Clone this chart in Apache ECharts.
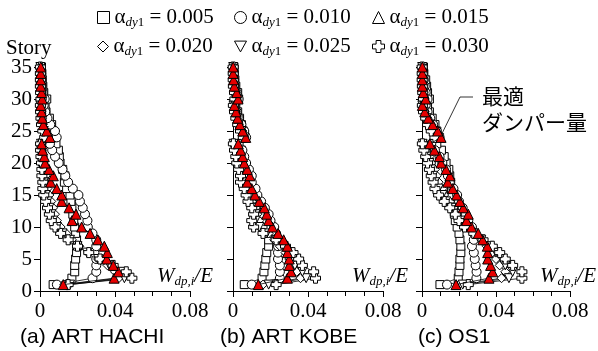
<!DOCTYPE html>
<html><head><meta charset="utf-8">
<script src="https://cdn.jsdelivr.net/npm/echarts@6/dist/echarts.min.js"></script>
<style>html,body{margin:0;padding:0;background:#fff}#c{width:598px;height:351px}</style>
</head><body><div id="c"></div>
<script>
// ---- data (index 0 = story 1 ... index 34 = story 35) ----
const stories = [1,2,3,4,5,6,7,8,9,10,11,12,13,14,15,16,17,18,19,20,21,22,23,24,25,26,27,28,29,30,31,32,33,34,35];
const alphas = ['0.005','0.010','0.015','0.020','0.025','0.030'];
const panelTitles = ['(a) ART HACHI','(b) ART KOBE','(c) OS1'];
const yTickLabels = ['0','5','10','15','20','25','30','35'];
const xTickLabels = ['0','0.04','0.08'];
const storyLabel = 'Story';
const noteLines = ['最適','ダンパー量'];

// (a) ART HACHI
const a_sq = [0.007,0.017,0.0185,0.0185,0.019,0.0195,0.020,0.0195,0.019,0.0185,0.018,0.0175,0.017,0.0165,0.016,0.0142,0.013,0.0133,0.0121,0.0107,0.0103,0.0098,0.0085,0.0075,0.0068,0.0062,0.005,0.0032,0.0027,0.0036,0.002,0.0015,0.0012,0.001,0.0008];
const a_ci = [0.009,0.028,0.030,0.030,0.030,0.029,0.030,0.030,0.028,0.0255,0.0253,0.024,0.0228,0.0213,0.0205,0.0175,0.015,0.0135,0.012,0.010,0.008,0.0065,0.0053,0.0089,0.008,0.0055,0.004,0.0028,0.002,0.0025,0.0015,0.001,0.0008,0.0006,0.0005];
const a_tr = [0.0124,0.0395,0.0418,0.0391,0.0356,0.0359,0.0343,0.0308,0.0267,0.0222,0.0171,0.0192,0.0155,0.0116,0.0116,0.0089,0.0057,0.0071,0.0048,0.0027,0.0023,0.0014,0.0009,0.0053,0.0036,0.0018,0.0012,0.0009,0.0004,0.0012,0.0009,0.0004,0.0004,0.0004,0.0004];
const a_di = [0.013,0.042,0.040,0.036,0.031,0.026,0.021,0.017,0.014,0.011,0.009,0.008,0.007,0.006,0.005,0.004,0.004,0.003,0.003,0.002,0.0015,0.001,0.001,0.004,0.003,0.0015,0.001,0.0008,0.0003,0.001,0.0007,0.0003,0.0003,0.0003,0.0003];
const a_dt = [0.016,0.045,0.043,0.037,0.031,0.025,0.020,0.016,0.012,0.009,0.007,0.006,0.005,0.004,0.003,0.0025,0.002,0.002,0.0015,0.001,0.001,0.0005,0.0005,0.003,0.002,0.001,0.0008,0.0005,0.0002,0.0008,0.0005,0.0002,0.0002,0.0002,0.0002];
const a_cr = [0.015,0.049,0.046,0.039,0.032,0.026,0.020,0.015,0.011,0.008,0.006,0.005,0.004,0.003,0.002,0.0015,0.0015,0.001,0.001,0.0008,0.0005,0.0003,0.0003,0.0025,0.0015,0.0008,0.0005,0.0003,0.0002,0.0005,0.0003,0.0002,0.0002,0.0002,0.0002];
// (b) ART KOBE
const b_sq = [0.006,0.0155,0.0165,0.017,0.0175,0.018,0.019,0.019,0.0185,0.018,0.0165,0.015,0.014,0.013,0.011,0.010,0.009,0.008,0.007,0.006,0.005,0.0045,0.003,0.0065,0.0055,0.0045,0.0035,0.0025,0.0015,0.003,0.0025,0.0015,0.001,0.0006,0.0005];
const b_ci = [0.010,0.025,0.025,0.025,0.024,0.024,0.024,0.024,0.023,0.022,0.020,0.019,0.017,0.015,0.013,0.012,0.010,0.010,0.0085,0.007,0.006,0.005,0.003,0.007,0.006,0.0045,0.003,0.002,0.001,0.003,0.002,0.001,0.0006,0.0004,0.0003];
const b_tr = [0.0135,0.029,0.031,0.030,0.030,0.029,0.029,0.027,0.024,0.021,0.019,0.018,0.0167,0.014,0.0117,0.010,0.0076,0.009,0.0076,0.006,0.0052,0.0041,0.0028,0.0068,0.0052,0.0037,0.0025,0.0016,0.0007,0.0027,0.002,0.0007,0.0003,0.0001,0.0001];
const b_di = [0.016,0.036,0.034,0.031,0.030,0.028,0.025,0.022,0.019,0.016,0.014,0.013,0.012,0.010,0.009,0.008,0.006,0.006,0.005,0.004,0.003,0.002,0.001,0.006,0.005,0.003,0.002,0.0015,0.0005,0.002,0.0015,0.0005,0.0003,0.0002,0.0002];
const b_dt = [0.019,0.039,0.037,0.033,0.032,0.030,0.027,0.023,0.018,0.014,0.012,0.012,0.011,0.009,0.008,0.007,0.005,0.005,0.004,0.003,0.002,0.001,0.0003,0.006,0.0045,0.003,0.002,0.001,0.0003,0.0015,0.001,0.0003,0.0002,0.0001,0.0001];
const b_cr = [0.023,0.044,0.043,0.037,0.035,0.032,0.028,0.023,0.016,0.011,0.010,0.011,0.010,0.008,0.007,0.006,0.004,0.004,0.003,0.002,0.0015,0.0008,0.0002,0.0055,0.004,0.0025,0.0015,0.0008,0.0002,0.001,0.0008,0.0002,0.0001,0.0001,0.0001];
// (c) OS1
const c_sq = [0.0097,0.0196,0.020,0.0205,0.0205,0.021,0.021,0.0205,0.020,0.019,0.018,0.0175,0.017,0.0165,0.016,0.016,0.0155,0.015,0.0145,0.013,0.012,0.0105,0.008,0.0095,0.008,0.007,0.0055,0.004,0.003,0.004,0.003,0.0025,0.002,0.001,0.0008];
const c_ci = [0.0135,0.0294,0.0295,0.029,0.0285,0.028,0.027,0.028,0.028,0.027,0.025,0.0235,0.022,0.020,0.019,0.017,0.015,0.014,0.013,0.011,0.0095,0.007,0.005,0.0095,0.008,0.006,0.0045,0.003,0.002,0.003,0.002,0.0015,0.001,0.0005,0.0004];
const c_tr = [0.0184,0.0362,0.0382,0.0371,0.0355,0.0355,0.0353,0.0328,0.0304,0.0268,0.0241,0.025,0.0223,0.0205,0.0187,0.0166,0.0139,0.0151,0.013,0.0103,0.0094,0.0067,0.0043,0.0103,0.0085,0.0058,0.0034,0.0015,0.0002,0.002,0.0007,0.0002,0.0002,0.0002,0.0002];
const c_di = [0.020,0.043,0.045,0.042,0.040,0.038,0.035,0.032,0.028,0.024,0.021,0.019,0.017,0.015,0.012,0.011,0.009,0.008,0.007,0.005,0.004,0.002,0.001,0.009,0.007,0.005,0.003,0.0015,0.0003,0.0015,0.0007,0.0003,0.0002,0.0002,0.0002];
const c_dt = [0.022,0.047,0.049,0.045,0.043,0.040,0.036,0.032,0.028,0.024,0.021,0.018,0.016,0.013,0.011,0.009,0.007,0.006,0.005,0.004,0.003,0.001,0.0003,0.008,0.006,0.004,0.0025,0.001,0.0002,0.001,0.0005,0.0002,0.0001,0.0001,0.0001];
const c_cr = [0.025,0.054,0.054,0.049,0.045,0.042,0.038,0.033,0.028,0.023,0.020,0.018,0.015,0.012,0.009,0.007,0.006,0.005,0.004,0.003,0.002,0.001,0.0002,0.007,0.005,0.003,0.002,0.0008,0.0002,0.0008,0.0004,0.0002,0.0001,0.0001,0.0001];

// ---- build chart ----
const SERIF = 'Liberation Serif';
const SANS = 'Liberation Sans';
const DOWN = 'path://M0,0 L10,0 L5,9 Z';
const CROSS = 'path://M3,0 H7 V3 H10 V7 H7 V10 H3 V7 H0 V3 H3 Z';
const symbols = ['rect','circle','triangle','diamond',DOWN,CROSS];
const sizes = [8,9,10,9,9,10];
const panelData = [
  [a_sq,a_ci,a_tr,a_di,a_dt,a_cr],
  [b_sq,b_ci,b_tr,b_di,b_dt,b_cr],
  [c_sq,c_ci,c_tr,c_di,c_dt,c_cr]
];
const gridPos = [{left:40,width:150},{left:233,width:150},{left:422,width:148}];

const grids = gridPos.map(g => ({left:g.left, width:g.width, top:67, height:224, containLabel:false, outerBoundsMode:'none'}));
const xAxes = gridPos.map((g,i) => ({
  type:'value', gridIndex:i, min:0, max:0.08, interval:0.04,
  axisLine:{show:true, onZero:false, lineStyle:{color:'#000', width:1}},
  axisTick:{show:true, inside:false, length:6, lineStyle:{color:'#000', width:1}},
  minorTick:{show:true, splitNumber:4, length:5, lineStyle:{color:'#000', width:1}},
  splitLine:{show:false}, minorSplitLine:{show:false},
  axisLabel:{show:true, margin:10, color:'#000', fontFamily:SERIF, fontSize:21,
    formatter: v => xTickLabels[Math.round(v/0.04)] || ''}
}));
const yAxes = gridPos.map((g,i) => ({
  type:'value', gridIndex:i, min:0, max:35, interval:5,
  axisLine:{show:true, onZero:false, lineStyle:{color:'#000', width:1}},
  axisTick:{show:true, inside:false, length:6, lineStyle:{color:'#000', width:1}},
  splitLine:{show:false},
  axisLabel:{show:i===0, margin:8, color:'#000', fontFamily:SERIF, fontSize:21,
    formatter: v => yTickLabels[Math.round(v/5)] || ''}
}));

const series = [];
const order = [0,1,3,4,5,2];
panelData.forEach((arrs,p) => {
  order.forEach(k => {
    series.push({
      type:'line', name:alphas[k], xAxisIndex:p, yAxisIndex:p,
      data: arrs[k].map((v,i) => [v, stories[i]]),
      symbol:symbols[k], symbolSize:sizes[k], showAllSymbol:true,
      lineStyle:{color:'#000', width:0.8},
      itemStyle:{color: k===2 ? '#e60000' : '#fff', borderColor:'#000', borderWidth:1, opacity:1},
      z: k===2 ? 5 : 3, animation:false, silent:true,
      emphasis:{disabled:true}
    });
  });
});

const subRich = {
  a:{fontFamily:SERIF, fontSize:21, color:'#000', lineHeight:24},
  s:{fontFamily:SERIF, fontStyle:'italic', fontSize:13, color:'#000', lineHeight:10, verticalAlign:'bottom'},
  n:{fontFamily:SERIF, fontSize:13, color:'#000', lineHeight:10, verticalAlign:'bottom'}
};
const legendPos = [[97,7],[234,7],[372,7],[97,36],[234,36],[372,36]];
const legendIcons = ['rect','circle','triangle','diamond',DOWN,CROSS];
const legends = alphas.map((name,i) => ({
  data:[{name:name, icon:legendIcons[i]}], left:legendPos[i][0], top:legendPos[i][1],
  padding:0, itemWidth:i===3?11:12, itemHeight:i===3?11:12, itemGap:0, selectedMode:false,
  itemStyle:{color:'#fff', borderColor:'#000', borderWidth:1},
  formatter: n => '{a|α}{s|dy}{n|1}{a| = ' + n + '}',
  textStyle:{fontFamily:SERIF, rich:subRich}
}));

const wRich = {
  w:{fontFamily:SERIF, fontStyle:'italic', fontSize:21, color:'#000', lineHeight:24},
  s:{fontFamily:SERIF, fontStyle:'italic', fontSize:13, color:'#000', lineHeight:10, verticalAlign:'bottom'}
};
const wX = [157, 352, 540];
const titleX = [20, 220, 418];
const graphics = [];
wX.forEach((x,i) => graphics.push({type:'text', left:x, top:266, silent:true,
  style:{text:'{w|W}{s|dp,i}{w|/E}', rich:wRich}}));
titleX.forEach((x,i) => graphics.push({type:'text', x:x, y:337, silent:true,
  style:{text:panelTitles[i], fontFamily:SANS, fontSize:21, fill:'#000', textVerticalAlign:'middle'}}));
graphics.push({type:'text', x:6, y:48, silent:true,
  style:{text:storyLabel, fontFamily:SERIF, fontSize:21, fill:'#000', textVerticalAlign:'middle'}});
graphics.push({type:'text', x:482, y:96, silent:true,
  style:{text:noteLines[0], fontFamily:'Noto Sans CJK JP', fontSize:21, fill:'#000', textVerticalAlign:'middle'}});
graphics.push({type:'text', x:482, y:122, silent:true,
  style:{text:noteLines[1], fontFamily:'Noto Sans CJK JP', fontSize:21, fill:'#000', textVerticalAlign:'middle'}});

const chart = echarts.init(document.getElementById('c'), null, {renderer:'canvas'});
chart.setOption({
  animation:false, backgroundColor:'#fff', textStyle:{fontFamily:SERIF},
  grid:grids, xAxis:xAxes, yAxis:yAxes, legend:legends, series:series, graphic:graphics
});
// leader line pointing to the optimal (red) marker at story 24 in panel (c)
const pt = chart.convertToPixel({xAxisIndex:2, yAxisIndex:2}, [c_tr[23], stories[23]]);
graphics.push({type:'polyline', silent:true, z:10,
  shape:{points:[[pt[0]+1, pt[1]-4],[460,97],[473,97]]},
  style:{stroke:'#000', lineWidth:0.8, fill:null}});
chart.setOption({graphic:graphics});
</script></body></html>
